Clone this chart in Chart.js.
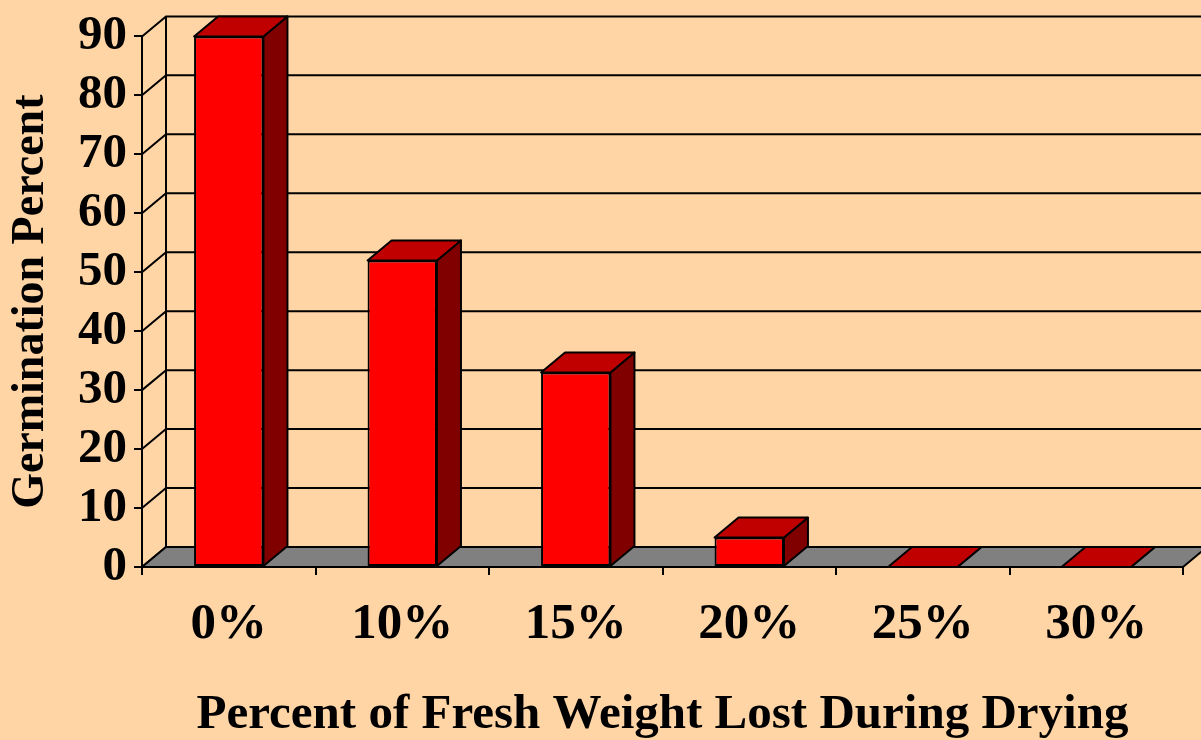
<!DOCTYPE html>
<html>
<head>
<meta charset="utf-8">
<script src="https://cdn.jsdelivr.net/npm/chart.js@4"></script>
<style>
  html, body { margin: 0; padding: 0; background: #FFD5A6; }
  canvas { display: block; }
</style>
</head>
<body>
<canvas id="germ-canvas" width="1201" height="740"></canvas>
<script>
const categories = ['0%', '10%', '15%', '20%', '25%', '30%'];
const germination = [90, 52, 33, 5, 0, 0];
const y_ticks = [0, 10, 20, 30, 40, 50, 60, 70, 80, 90];

const serif = '"Liberation Serif", "Times New Roman", serif';
const depth_x = 24;
const depth_y = -20;

// draws the walls, floor and the top/side faces of the bars
const box3d = {
    id: 'box3d',
    beforeDatasetsDraw(chart) {
        const ctx = chart.ctx;
        const area = chart.chartArea;
        const ys = chart.scales.y;
        ctx.save();
        ctx.strokeStyle = '#000';
        ctx.lineWidth = 2;
        // back wall grid + left wall diagonals
        y_ticks.forEach(v => {
            const y = ys.getPixelForValue(v);
            ctx.beginPath();
            ctx.moveTo(area.left, y);
            ctx.lineTo(area.left + depth_x, y + depth_y);
            if (v > 0) ctx.lineTo(chart.width + 5, y + depth_y);
            ctx.stroke();
        });
        // back vertical line of left wall
        ctx.beginPath();
        ctx.moveTo(area.left + depth_x, ys.getPixelForValue(90) + depth_y);
        ctx.lineTo(area.left + depth_x, area.bottom + depth_y);
        ctx.stroke();
        // floor
        ctx.beginPath();
        ctx.moveTo(area.left, area.bottom);
        ctx.lineTo(area.right, area.bottom);
        ctx.lineTo(area.right + depth_x, area.bottom + depth_y);
        ctx.lineTo(area.left + depth_x, area.bottom + depth_y);
        ctx.closePath();
        ctx.fillStyle = '#808080';
        ctx.fill();
        ctx.stroke();
        ctx.restore();
    },
    afterDatasetsDraw(chart) {
        const ctx = chart.ctx;
        const meta = chart.getDatasetMeta(0);
        ctx.save();
        ctx.strokeStyle = '#000';
        ctx.lineWidth = 2;
        ctx.lineJoin = 'round';
        meta.data.forEach(bar => {
            const p = bar.getProps(['x', 'y', 'base', 'width'], true);
            const x0 = p.x - p.width / 2;
            const x1 = p.x + p.width / 2;
            const top = Math.min(p.y, p.base);
            // side face
            ctx.beginPath();
            ctx.moveTo(x1, top);
            ctx.lineTo(x1 + depth_x, top + depth_y);
            ctx.lineTo(x1 + depth_x, p.base + depth_y);
            ctx.lineTo(x1, p.base);
            ctx.closePath();
            ctx.fillStyle = '#800000';
            ctx.fill();
            ctx.stroke();
            // top face
            ctx.beginPath();
            ctx.moveTo(x0, top);
            ctx.lineTo(x1, top);
            ctx.lineTo(x1 + depth_x, top + depth_y);
            ctx.lineTo(x0 + depth_x, top + depth_y);
            ctx.closePath();
            ctx.fillStyle = '#C00000';
            ctx.fill();
            ctx.stroke();
        });
        ctx.restore();
    }
};

const germ_config = {
    type: 'bar',
    data: {
        labels: categories,
        datasets: [
            {
                data: germination,
                backgroundColor: '#FF0000',
                borderColor: '#000',
                borderWidth: 2,
                borderSkipped: false,
                barPercentage: 0.4,
                categoryPercentage: 1.0,
            }
        ]
    },
    options: {
        responsive: false,
        animation: false,
        layout: {
            padding: { left: 0, right: 18, top: 34, bottom: 0 }
        },
        plugins: {
            legend: { display: false },
            tooltip: { enabled: false },
        },
        scales: {
            x: {
                afterFit: s => { s.height = 173; },
                grid: { drawOnChartArea: false, drawTicks: true, tickLength: 8, color: '#000', lineWidth: 2 },
                border: { display: true, color: '#000', width: 2 },
                ticks: { color: '#000', padding: 19, font: { family: serif, size: 51, weight: 'bold' } },
                title: {
                    display: true,
                    text: 'Percent of Fresh Weight Lost During Drying',
                    color: '#000',
                    padding: { top: 0, bottom: -5 },
                    font: { family: serif, size: 49, weight: 'bold' }
                }
            },
            y: {
                min: 0,
                max: 90,
                afterFit: s => { s.width = 142; },
                afterBuildTicks: s => { s.ticks = y_ticks.map(v => ({ value: v })); },
                grid: { drawOnChartArea: false, drawTicks: true, tickLength: 8, color: '#000', lineWidth: 2 },
                border: { display: true, color: '#000', width: 2 },
                ticks: { color: '#000', padding: 7, autoSkip: false, font: { family: serif, size: 49, weight: 'bold' } },
                title: {
                    display: true,
                    text: 'Germination Percent',
                    color: '#000',
                    padding: { top: 4, bottom: 0 },
                    font: { family: serif, size: 46, weight: 'bold' }
                }
            }
        }
    },
    plugins: [box3d]
};

const germ_ctx = document.getElementById('germ-canvas');
new Chart(germ_ctx, germ_config);
</script>
</body>
</html>
